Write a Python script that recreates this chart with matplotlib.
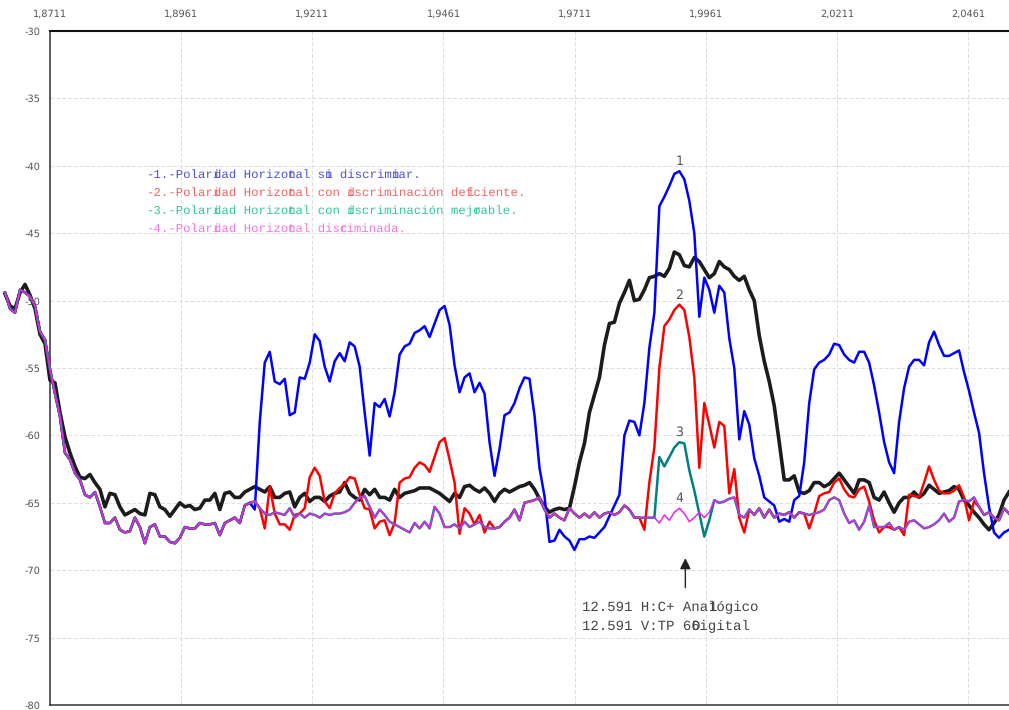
import matplotlib
matplotlib.use("Agg")
import matplotlib.pyplot as plt
import numpy as np

plt.rcParams['axes.unicode_minus'] = False
plt.rcParams['text.hinting'] = 'none'

# frequency sweep of the analyser trace (GHz, IF)
f_start, f_stop = 1.86253, 2.05389

# common floor shared by traces 1-4 (dB)
baseline = [
    -49.4, -50.6, -50.9, -49.2, -49.4, -49.7, -50.4, -52.3, -52.9, -55.1,
    -56.9, -58.6, -61.3, -61.8, -62.8, -63.3, -64.4, -64.6, -64.2, -65.3,
    -66.5, -66.5, -66.1, -67.0, -67.2, -67.1, -66.1, -66.8, -68.0, -66.8,
    -66.6, -67.5, -67.5, -67.9, -68.0, -67.6, -66.8, -66.9, -66.9, -66.5,
    -66.6, -66.6, -66.5, -67.4, -66.5, -66.3, -66.1, -66.5, -65.2, -65.0,
    -64.9, -65.4, -65.8, -65.9, -65.7, -65.8, -65.9, -65.4, -66.1, -65.8,
    -66.1, -65.8, -65.9, -66.1, -65.8, -65.9, -65.8, -65.8, -65.7, -65.5,
    -65.0, -64.6, -64.5, -65.3, -66.1, -65.5, -65.9, -66.4, -66.6, -66.8,
    -67.0, -67.2, -66.5, -66.9, -66.4, -66.9, -65.3, -65.8, -66.8, -66.8,
    -66.6, -66.9, -66.4, -66.8, -66.6, -66.4, -66.8, -66.9, -66.9, -66.8,
    -66.4, -66.1, -65.5, -66.3, -65.0, -64.9, -64.8, -64.6, -65.5, -66.1,
    -65.8, -66.1, -66.3, -65.4, -65.8, -66.1, -65.8, -66.1, -65.7, -66.1,
    -65.8, -65.7, -65.9, -65.7, -65.2, -65.5, -66.1, -66.1, -66.1, -66.1,
    -66.1, -66.5, -65.9, -66.3, -65.7, -65.4, -65.8, -66.4, -66.1, -65.7,
    -66.1, -65.7, -64.8, -65.0, -64.9, -64.7, -64.6, -65.9, -66.1, -65.5,
    -65.9, -65.4, -66.1, -65.5, -66.1, -65.8, -65.9, -65.7, -66.1, -65.7,
    -65.8, -65.9, -65.8, -65.7, -65.5, -64.8, -64.6, -64.8, -65.8, -66.5,
    -66.3, -67.0, -66.4, -65.2, -66.8, -66.8, -66.8, -66.5, -67.0, -66.8,
    -67.0, -66.4, -66.3, -66.6, -66.9, -66.8, -66.6, -66.3, -65.8, -66.4,
    -66.1, -64.9, -64.8, -64.9, -64.6, -65.3, -65.9, -65.7, -66.1, -66.3,
    -65.4, -65.8,
]

# full spectrum (black trace)
total = [
    -49.5, -50.4, -50.6, -49.4, -48.8, -49.6, -50.6, -52.5, -53.2, -55.9,
    -56.1, -58.3, -60.1, -61.3, -62.3, -63.1, -63.2, -62.9, -63.5, -64.0,
    -65.3, -64.3, -64.4, -65.3, -65.9, -65.7, -65.5, -65.8, -65.9, -64.3,
    -64.4, -65.3, -65.5, -66.0, -65.5, -65.0, -65.3, -65.2, -65.5, -65.4,
    -64.8, -64.8, -64.3, -65.5, -64.3, -64.2, -64.6, -64.6, -64.2, -64.0,
    -63.8, -64.0, -64.2, -63.8, -64.6, -64.6, -64.3, -64.2, -65.3, -64.6,
    -64.3, -64.9, -64.6, -64.6, -64.9, -64.5, -64.3, -64.2, -63.5, -64.3,
    -64.6, -64.8, -64.0, -64.4, -64.0, -64.6, -64.6, -64.8, -64.0, -64.6,
    -64.3, -64.2, -64.1, -63.9, -63.9, -63.9, -64.1, -64.3, -64.6, -64.9,
    -64.3, -64.6, -63.8, -63.7, -64.0, -64.2, -63.9, -64.3, -64.9, -64.3,
    -64.0, -64.2, -64.0, -63.8, -63.7, -63.5, -64.0, -64.7, -65.3, -65.7,
    -65.5, -65.4, -65.5, -65.4, -63.8, -62.0, -60.6, -58.3, -57.0, -55.7,
    -53.3, -51.7, -51.6, -50.2, -49.4, -48.5, -50.0, -49.9, -49.2, -48.3,
    -48.2, -48.0, -48.2, -47.6, -46.4, -46.6, -47.4, -47.5, -46.8, -47.1,
    -47.7, -48.3, -48.0, -47.1, -47.5, -47.7, -48.2, -48.5, -48.2, -49.2,
    -50.0, -52.6, -54.5, -56.0, -57.8, -60.5, -63.3, -63.3, -63.0, -64.2,
    -64.3, -64.1, -63.5, -63.5, -63.8, -63.6, -63.2, -62.8, -63.3, -63.8,
    -64.3, -63.3, -63.3, -63.5, -64.6, -64.8, -64.2, -65.0, -65.7, -65.0,
    -64.6, -64.6, -64.2, -64.6, -64.3, -63.7, -64.0, -64.3, -64.2, -64.1,
    -63.8, -64.0, -64.8, -65.2, -65.7, -66.1, -66.6, -67.0, -66.5, -65.9,
    -64.8, -64.2,
]

# trace 1 from point 50 on (before that it follows the floor)
blue_tail = [
    -65.5, -59.0, -54.6, -53.8, -56.0, -56.2, -55.8, -58.5, -58.3, -55.7,
    -55.8, -54.6, -52.5, -53.0, -54.9, -56.0, -54.5, -53.9, -54.5, -53.1,
    -53.4, -54.9, -58.3, -61.5, -57.6, -57.9, -57.3, -58.6, -56.8, -54.0,
    -53.4, -53.2, -52.4, -52.2, -51.9, -52.7, -51.7, -50.7, -50.4, -51.8,
    -54.8, -56.8, -55.7, -55.4, -56.8, -56.1, -56.9, -60.5, -63.0, -61.0,
    -58.5, -58.3, -57.6, -56.5, -55.7, -55.8, -58.5, -62.4, -64.5, -67.9,
    -67.8, -67.0, -67.5, -67.8, -68.5, -67.7, -67.7, -67.5, -67.6, -67.2,
    -66.8, -66.0, -65.2, -64.4, -60.0, -58.9, -59.0, -60.0, -57.6, -53.5,
    -50.9, -43.0, -42.3, -41.5, -40.6, -40.4, -41.0, -42.6, -45.0, -51.2,
    -48.3, -49.2, -50.9, -48.9, -49.4, -52.8, -55.0, -60.3, -58.2, -59.2,
    -61.7, -63.0, -64.6, -64.9, -65.2, -66.4, -66.2, -66.4, -64.8, -64.5,
    -62.0, -57.6, -55.1, -54.6, -54.4, -54.0, -53.2, -53.3, -54.0, -54.4,
    -54.6, -53.8, -53.8, -54.6, -56.3, -58.3, -60.5, -62.0, -62.8, -59.0,
    -56.5, -54.9, -54.4, -54.4, -54.8, -53.1, -52.3, -53.3, -54.1, -54.1,
    -53.9, -53.7, -55.3, -56.7, -58.3, -59.8, -62.8, -65.3, -67.2, -67.6,
    -67.2, -67.0,
]

# trace 2 segments
red_seg1 = [
    -65.4, -66.9, -63.8, -65.8, -66.6, -66.6, -67.0, -65.9, -65.8, -65.4,
    -63.1, -62.4, -63.0, -64.9, -65.4, -64.3, -63.9, -63.6, -63.1, -63.2,
    -64.4, -65.4, -65.5, -66.9, -66.4, -66.3, -67.4, -66.5, -63.5, -63.2,
    -63.1, -62.4, -62.0, -62.2, -62.7, -61.6, -60.5, -60.2, -61.8, -63.5,
    -67.3, -65.4, -65.8, -66.6, -65.9, -67.2, -66.4,
]
red_seg2 = [
    -66.1, -67.0, -63.5, -60.9, -55.0, -51.9, -51.4, -50.7, -50.3, -50.7,
    -52.7, -55.7, -62.4, -57.6, -59.2, -60.9, -59.0, -59.3, -64.3, -62.5,
    -66.1, -67.2, -65.5,
]
red_seg3 = [
    -66.9, -65.8, -64.5, -64.3, -64.2, -63.5, -63.2, -64.0, -64.5, -64.6,
    -64.0, -63.8, -64.9, -66.3, -67.2, -66.8, -66.8, -67.0, -66.8, -67.4,
    -64.4, -64.5, -64.6, -63.5, -62.3, -63.3, -64.1, -64.3, -64.3, -64.1,
    -63.7, -64.6, -66.3, -64.9,
]
# trace 3 peak
teal_seg = [-61.6, -62.3, -61.6, -60.9, -60.5, -60.6, -62.6, -64.1, -65.8, -67.5, -66.3]

x_ticks = [1.8711, 1.8961, 1.9211, 1.9461, 1.9711, 1.9961, 2.0211, 2.0461]
y_ticks = [-80, -75, -70, -65, -60, -55, -50, -45, -40, -35, -30]

legend_frags = [
    ["-1.-Polari", "dad Horizon", "tal si", "n discrimi", "nar."],
    ["-2.-Polari", "dad Horizon", "tal con d", "iscriminación def", "iciente."],
    ["-3.-Polari", "dad Horizon", "tal con d", "iscriminación mejo", "rable."],
    ["-4.-Polari", "dad Horizon", "tal disc", "riminada."],
]
legend_colors = ["#5050dc", "#f46464", "#30c8a0", "#f478e0"]

marker_f = 1.9922
carrier_lines = [["12.591 H:C+ Anal", "1ógico"], ["12.591 V:TP 66", "Digital"]]

# --- build traces
freq = np.linspace(f_start, f_stop, len(baseline))
t1 = np.array(baseline)
t1[50:] = blue_tail
t2 = np.array(baseline)
t2[51:51 + len(red_seg1)] = red_seg1
t2[127:127 + len(red_seg2)] = red_seg2
t2[161:161 + len(red_seg3)] = red_seg3
t3 = np.array(baseline)
t3[131:131 + len(teal_seg)] = teal_seg
t4 = np.array(baseline)

fig = plt.figure(figsize=(10.09, 7.10), dpi=100)
ax = fig.add_axes([50 / 1009, 5 / 710, 959 / 1009, 674 / 710])

ax.plot(freq, total, color="#1c1c1c", lw=2.6, clip_on=False, zorder=3)
ax.plot(freq, t1, color="#0000ff", lw=1.8, clip_on=False, zorder=4)
ax.plot(freq, t2, color="#ff0000", lw=1.8, clip_on=False, zorder=5)
ax.plot(freq, t3, color="#008080", lw=1.8, clip_on=False, zorder=6)
ax.plot(freq, t4, color="#ee22ee", lw=1.1, clip_on=False, zorder=7)

ax.set_xlim(1.8711, 2.05389)
ax.set_ylim(-80, -30)
ax.set_xticks(x_ticks)
ax.set_xticklabels([f"{v:.4f}".replace(".", ",") for v in x_ticks])
ax.set_yticks(y_ticks)
ax.set_yticklabels([str(v) for v in y_ticks])
ax.xaxis.tick_top()
ax.tick_params(axis="x", length=0, pad=9, labelsize=7, labelcolor="#555555")
ax.tick_params(axis="y", length=0, pad=7, labelsize=7, labelcolor="#555555")
ax.grid(True, color="#dddddd", linestyle=(0, (4, 2)), linewidth=0.7)
ax.spines["right"].set_visible(False)
ax.spines["top"].set_linewidth(1.5)
ax.spines["top"].set_color("#111111")
ax.spines["left"].set_linewidth(1.1)
ax.spines["left"].set_color("#333333")
ax.spines["bottom"].set_linewidth(1.1)
ax.spines["bottom"].set_color("#333333")

# peak numbers
ipk = int(np.argmax(t1))
for k, tr in enumerate([t1, t2, t3, t4]):
    ax.text(freq[ipk], tr[ipk - 2:ipk + 3].max() + 0.7, str(k + 1), ha="center",
            va="center", fontsize=9, color="#555555", zorder=8)

renderer = fig.canvas.get_renderer()


def char_width(fs):
    t = fig.text(0, 0, "0" * 40, fontsize=fs, family="Liberation Mono")
    w = t.get_window_extent(renderer).width / 40
    t.remove()
    return w * 72 / fig.dpi


def mono_line(x, y, frags, color, fs, coords):
    # fragments overlap their neighbour by one character cell
    cw = char_width(fs)
    col = 0
    for fr in frags:
        ax.annotate(fr, xy=(x, y), xycoords=coords, xytext=(col * cw, 0),
                    textcoords="offset points", va="center", ha="left",
                    fontsize=fs, color=color, family="Liberation Mono", zorder=9)
        col += len(fr) - 1


for i, (frags, c) in enumerate(zip(legend_frags, legend_colors)):
    mono_line(0.1011, 0.7864 - i * 0.0267, frags, c, 8.9, "axes fraction")

# carrier marker
ax.annotate("", xy=(marker_f, -68.9), xytext=(marker_f, -71.5),
            arrowprops=dict(arrowstyle="-|>", color="#222222", lw=1.0, mutation_scale=16))
mono_line(1.97259, -72.73, carrier_lines[0], "#444444", 10.1, "data")
mono_line(1.97259, -74.14, carrier_lines[1], "#444444", 10.1, "data")

fig.savefig("out.png", dpi=100)
